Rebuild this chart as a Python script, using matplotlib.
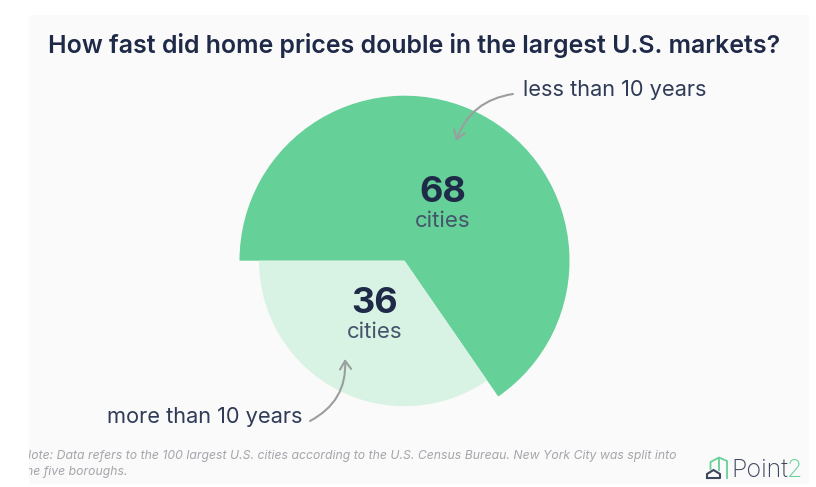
import matplotlib
matplotlib.use("Agg")
import matplotlib.pyplot as plt
from matplotlib.patches import Rectangle, FancyArrowPatch

plt.rcParams['font.family'] = ['Inter', 'DejaVu Sans']

W, H = 816, 487
segments = ["less than 10 years", "more than 10 years"]
city_counts = [68, 36]
unit_label = "cities"
title = "How fast did home prices double in the largest U.S. markets?"
note_lines = ["Note: Data refers to the 100 largest U.S. cities according to the U.S. Census Bureau. New York City was split into",
              "the five boroughs."]

DARK = "#65d097"
LIGHT = "#d8f2e4"
NAVY = "#1f2a48"
SLATE = "#45536b"
ARROW = "#9a9f9d"
PANEL = "#fafafa"

def Y(py):
    return H - py

fig = plt.figure(figsize=(W / 100, H / 100), dpi=100, facecolor="white")
ax = fig.add_axes([0, 0, 1, 1])
panel = Rectangle((29, Y(483.5)), 780, 468.5, fc=PANEL, ec="none", zorder=0)
ax.add_patch(panel)

cx, cy = 404.5, Y(260.7)
w_big, _ = ax.pie(city_counts, startangle=180, counterclock=False, radius=165, center=(cx, cy),
                  colors=[DARK, "none"], frame=True, wedgeprops=dict(lw=0))
w_small, _ = ax.pie(city_counts, startangle=180, counterclock=False, radius=145.5, center=(cx, cy),
                    colors=["none", LIGHT], frame=True, wedgeprops=dict(lw=0))
w_big[1].set_visible(False)
w_small[0].set_visible(False)

ax.set_xlim(0, W)
ax.set_ylim(0, H)
ax.set_aspect("auto")
ax.axis("off")

ax.text(48, Y(45), title, fontsize=17.95, fontweight="semibold", color=NAVY, va="center", ha="left")
ax.text(523, Y(90), segments[0], fontsize=15.7, color="#2f3b57", va="center", ha="left")
ax.text(107, Y(417), segments[1], fontsize=15.7, color="#2f3b57", va="center", ha="left")

ax.text(442.5, Y(193), str(city_counts[0]), fontsize=26, fontweight="bold", color=NAVY, va="center", ha="center")
ax.text(442.5, Y(221), unit_label, fontsize=16, color=SLATE, va="center", ha="center")
ax.text(375, Y(303.5), str(city_counts[1]), fontsize=26, fontweight="bold", color=NAVY, va="center", ha="center")
ax.text(375, Y(332), unit_label, fontsize=16, color=SLATE, va="center", ha="center")

ax.add_patch(FancyArrowPatch((513, Y(94)), (456, Y(141)), connectionstyle="arc3,rad=0.3",
                             arrowstyle="->,head_length=6,head_width=4", color=ARROW, lw=1.5, zorder=5,
                             shrinkA=0, shrinkB=0))
ax.add_patch(FancyArrowPatch((310, Y(421)), (345, Y(359)), connectionstyle="arc3,rad=0.32",
                             arrowstyle="->,head_length=6,head_width=4", color=ARROW, lw=1.5, zorder=5,
                             shrinkA=0, shrinkB=0))

for i, line in enumerate(note_lines):
    t = ax.text(22, Y(456 + 16 * i), line, fontsize=8.8, style="italic", color="#a3a6ab", va="center", ha="left")
    t.set_clip_path(panel)
    t.set_clip_on(True)

# Logo
ax.text(731, Y(470.5), "Point", fontsize=18, color="#3b4660", va="center", ha="left", fontweight="light")
ax.text(787, Y(470.5), "2", fontsize=18, color="#65d097", va="center", ha="left", fontweight="light")
ax.plot([710.5, 710.5, 719, 727, 727], [Y(469), Y(462), Y(457.5), Y(461), Y(478)], color=DARK, lw=1.3)
ax.plot([719, 719], [Y(457.5), Y(470)], color=DARK, lw=1.3)
ax.plot([707, 707, 713.5, 720, 720, 707], [Y(478), Y(474), Y(470), Y(474), Y(478), Y(478)], color="#3b4660", lw=1.5)

fig.savefig("out.png", dpi=100, facecolor="white")
